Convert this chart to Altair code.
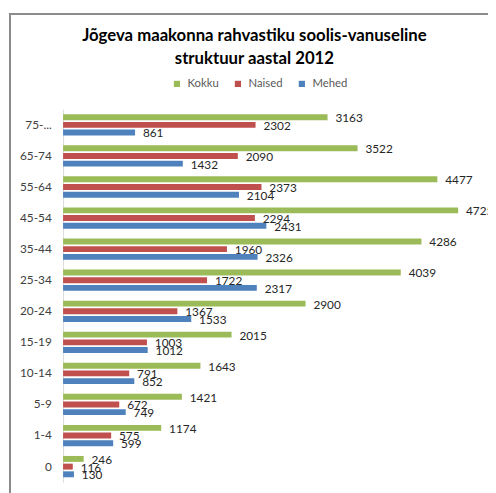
import altair as alt
import pandas as pd

categories = ["75-...", "65-74", "55-64", "45-54", "35-44", "25-34",
              "20-24", "15-19", "10-14", "5-9", "1-4", "0"]
kokku = [3163, 3522, 4477, 4725, 4286, 4039, 2900, 2015, 1643, 1421, 1174, 246]
naised = [2302, 2090, 2373, 2294, 1960, 1722, 1367, 1003, 791, 672, 575, 116]
mehed = [861, 1432, 2104, 2431, 2326, 2317, 1533, 1012, 852, 749, 599, 130]
series = ["Kokku", "Naised", "Mehed"]
colors = ["#9BBB59", "#C0504D", "#4F81BD"]

rows = []
for name, vals in zip(series, [kokku, naised, mehed]):
    for c, v in zip(categories, vals):
        rows.append({"vanus": c, "sari": name, "value": v})
df = pd.DataFrame(rows)

FONT = "Lato"

y_enc = alt.Y("vanus:N", sort=categories,
              scale=alt.Scale(paddingInner=0.26, paddingOuter=0.13),
              axis=alt.Axis(title=None, labelFont=FONT, labelFontSize=12,
                            labelColor="#404040", domainColor="#d9d9d9",
                            ticks=False, labelPadding=12))
yoff_enc = alt.YOffset("sari:N", sort=series,
                       scale=alt.Scale(paddingInner=0.23, paddingOuter=0.11))
x_enc = alt.X("value:Q", scale=alt.Scale(domain=[0, 5000]), axis=None)

bars = alt.Chart(df).mark_bar().encode(
    x=x_enc, y=y_enc, yOffset=yoff_enc,
    color=alt.Color("sari:N", sort=series,
                    scale=alt.Scale(domain=series, range=colors),
                    legend=alt.Legend(title=None, orient="none", legendX=110, legendY=-32,
                                      direction="horizontal", symbolType="square",
                                      symbolSize=40, symbolStrokeWidth=0,
                                      labelFont=FONT, labelFontSize=11.5,
                                      labelColor="#595959", columnPadding=13,
                                      labelOffset=5)),
)

labels = alt.Chart(df).mark_text(align="left", baseline="middle", dx=8, dy=1,
                                  font=FONT, fontSize=12, color="#262626").encode(
    x=x_enc, y=y_enc, yOffset=yoff_enc, text="value:Q"
)

frame_left = alt.Chart(df).mark_rule(color="#8c8c8c", strokeWidth=1).encode(
    x=alt.value(-54), y=alt.value(-97), y2=alt.value(400)
)
frame_top = alt.Chart(df).mark_rule(color="#8c8c8c", strokeWidth=1).encode(
    x=alt.value(-54), x2=alt.value(440), y=alt.value(-97)
)

chart = alt.layer(frame_left, frame_top, bars, labels).properties(
    width=425, height=379,
    title=alt.TitleParams(
        text=["Jõgeva maakonna rahvastiku soolis-vanuseline", "struktuur aastal 2012"],
        font=FONT, fontSize=17, fontWeight="bold", color="#000000",
        anchor="middle", frame="group", dx=-18, offset=-55, lineHeight=23),
    autosize=alt.AutoSizeParams(type="none"),
    padding={"left": 56, "top": 99, "right": 7, "bottom": 7},
).configure_view(stroke=None)

chart.save("out.html", embed_options={"renderer": "svg", "actions": False})
